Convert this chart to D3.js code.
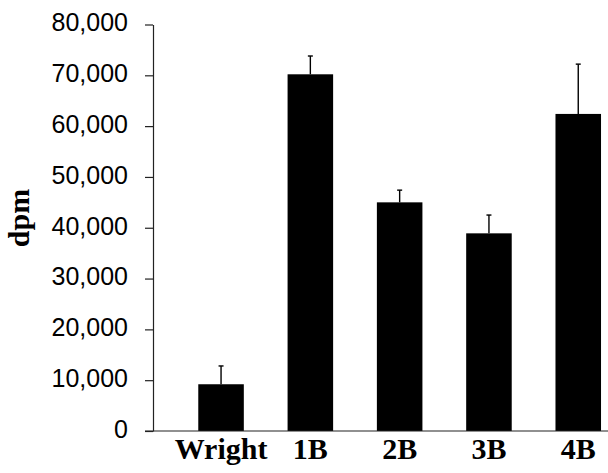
<!DOCTYPE html>
<html>
<head>
<meta charset="utf-8">
<script src="https://cdn.jsdelivr.net/npm/d3@7"></script>
<style>
  html, body { margin: 0; padding: 0; background: #fff; }
  svg { display: block; }
</style>
</head>
<body>
<svg id="chart" width="608" height="473"></svg>
<script>
// Strains and their measured radioactivity (dpm), with upper error bars
const categories = ["Wright", "1B", "2B", "3B", "4B"];
const values = [9200, 70200, 45000, 38900, 62400];
const errors = [3600, 3600, 2400, 3600, 9800];
const yTicks = [0, 10000, 20000, 30000, 40000, 50000, 60000, 70000, 80000];

const svg = d3.select("#chart");
const axisX = 153, baseY = 431, topY = 24.5;

const y = d3.scaleLinear().domain([0, 80000]).range([baseY, topY]);
const x = d3.scaleBand()
  .domain(categories)
  .range([176.4, 622.9])
  .paddingInner(0.49)
  .paddingOuter(0.245);

const rows = categories.map((c, i) => ({ c, v: values[i], e: errors[i] }));

// Bars
svg.append("g").selectAll("rect")
  .data(rows)
  .join("rect")
  .attr("x", d => x(d.c))
  .attr("y", d => y(d.v))
  .attr("width", x.bandwidth())
  .attr("height", d => y(0) - y(d.v))
  .attr("fill", "#000");

// Upper error bars
const err = svg.append("g").attr("stroke", "#000").attr("stroke-width", 1.4);
err.selectAll("line.stem")
  .data(rows)
  .join("line")
  .attr("class", "stem")
  .attr("x1", d => x(d.c) + x.bandwidth() / 2)
  .attr("x2", d => x(d.c) + x.bandwidth() / 2)
  .attr("y1", d => y(d.v))
  .attr("y2", d => y(d.v + d.e));
err.selectAll("line.cap")
  .data(rows)
  .join("line")
  .attr("class", "cap")
  .attr("x1", d => x(d.c) + x.bandwidth() / 2 - 2.5)
  .attr("x2", d => x(d.c) + x.bandwidth() / 2 + 2.5)
  .attr("y1", d => y(d.v + d.e))
  .attr("y2", d => y(d.v + d.e));

// Y axis
const yAxis = svg.append("g")
  .attr("transform", `translate(${axisX},0)`)
  .call(d3.axisLeft(y).tickValues(yTicks).tickFormat(d3.format(","))
    .tickSize(8).tickSizeOuter(0).tickPadding(17));
yAxis.select(".domain").attr("stroke", "#222").attr("stroke-width", 1.2);
yAxis.selectAll(".tick line").attr("stroke", "#222").attr("stroke-width", 1.2);
yAxis.selectAll(".tick text")
  .attr("fill", "#000")
  .attr("dy", "0.25em")
  .style("font-family", "'Liberation Sans', Arial, sans-serif")
  .style("font-size", "25px");

// X axis baseline
svg.append("line")
  .attr("x1", axisX - 8).attr("x2", 608)
  .attr("y1", baseY).attr("y2", baseY)
  .attr("stroke", "#222").attr("stroke-width", 1.2);

// Category labels
const xAxis = svg.append("g")
  .attr("transform", `translate(0,${baseY})`)
  .call(d3.axisBottom(x).tickSize(0).tickPadding(7));
xAxis.select(".domain").remove();
xAxis.selectAll(".tick text")
  .attr("fill", "#000")
  .style("font-family", "'Liberation Serif', 'Times New Roman', serif")
  .style("font-weight", "bold")
  .style("font-size", "30px");

// Y axis title
svg.append("text")
  .attr("transform", "translate(29,218) rotate(-90)")
  .attr("text-anchor", "middle")
  .style("font-family", "'Liberation Serif', 'Times New Roman', serif")
  .style("font-weight", "bold")
  .style("font-size", "30px")
  .text("dpm");
</script>
</body>
</html>
